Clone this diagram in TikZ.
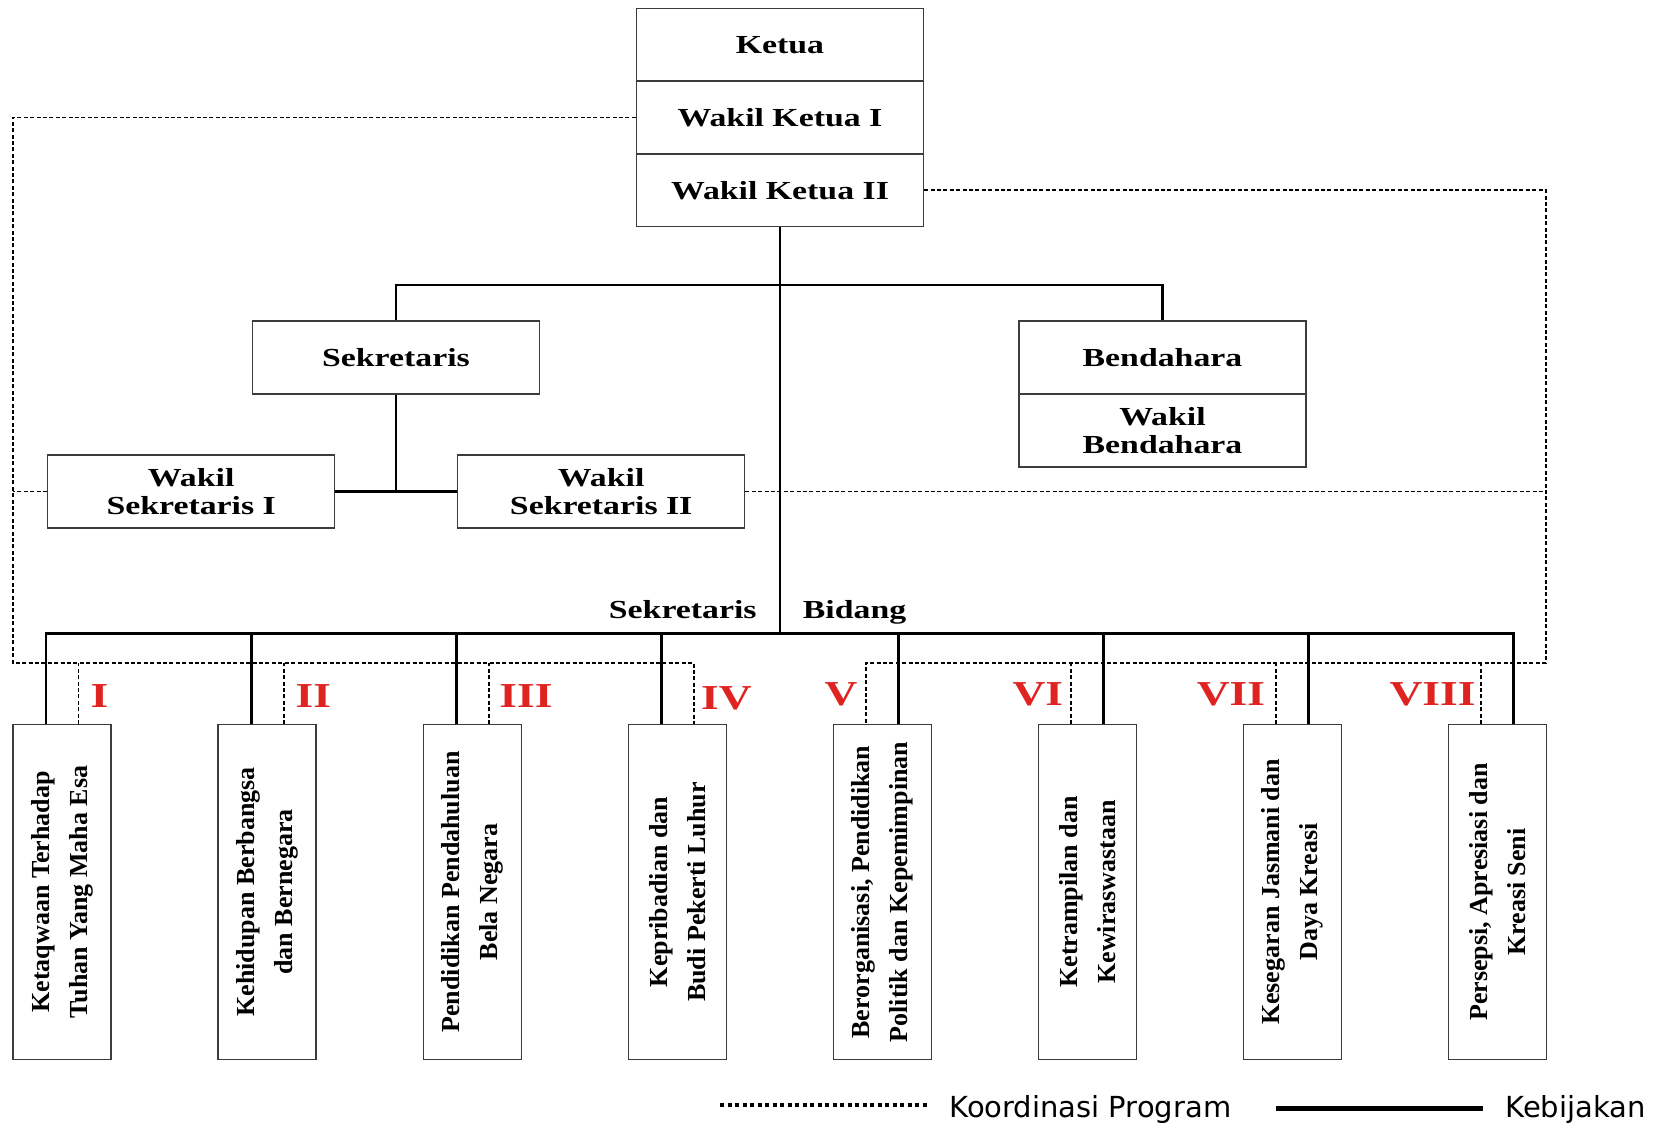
\documentclass[tikz,border=0pt]{standalone}
\usepackage{fontspec}
\setmainfont{Liberation Serif}
\newfontfamily\hfont[FakeStretch=1.3]{Liberation Serif}
\newfontfamily\legfont{DejaVu Sans}
\definecolor{numred}{RGB}{222,35,32}
\definecolor{boxline}{RGB}{60,60,60}
\begin{document}
\begin{tikzpicture}[x=0.5pt,y=-0.5pt,
  unitbox/.style={draw=boxline, line width=0.65pt, minimum width=143.5pt, minimum height=36.4pt, inner sep=0pt, align=center,
     font=\hfont\bfseries\fontsize{13}{14.3}\selectfont},
  fieldbox/.style={draw=boxline, line width=0.65pt, minimum width=49pt, minimum height=167.3pt, inner sep=0pt},
  fieldtext/.style={rotate=90, align=center, inner sep=0pt, font=\bfseries\fontsize{13}{19}\selectfont},
  pol/.style={line width=1.4pt, black},
  coordline/.style={line width=0.95pt, black, dash pattern=on 2pt off 1.2pt},
  num/.style={text=numred, inner sep=0pt, font=\hfont\bfseries\fontsize{17.5}{20}\selectfont},
  buslabel/.style={inner sep=0pt, font=\hfont\bfseries\fontsize{13}{14}\selectfont},
  legtext/.style={inner sep=0pt, font=\legfont\fontsize{14.5}{16}\selectfont}
]
\useasboundingbox (0,0) rectangle (1661,1129);

% top stack
\node[unitbox] (ketua) at (780,44.85) {Ketua};
\node[unitbox] (wk1) at (780,117.55) {Wakil Ketua I};
\node[unitbox] (wk2) at (780,190.25) {Wakil Ketua II};

% secretary & treasurer
\node[unitbox] (sek) at (396,357.5) {Sekretaris};
\node[unitbox] (wsek1) at (191.2,491.5) {Wakil\\Sekretaris I};
\node[unitbox] (wsek2) at (601.2,491.5) {Wakil\\Sekretaris II};
\node[unitbox] (bend) at (1162.5,357.5) {Bendahara};
\node[unitbox] (wbend) at (1162.5,430.5) {Wakil\\Bendahara};

% field boxes
\foreach \i/\t in {1/{Ketaqwaan Terhadap\\Tuhan Yang Maha Esa},
                   2/{Kehidupan Berbangsa\\dan Bernegara},
                   3/{Pendidikan Pendahuluan\\Bela Negara},
                   4/{Kepribadian dan\\Budi Pekerti Luhur},
                   5/{Berorganisasi, Pendidikan\\Politik dan Kepemimpinan},
                   6/{Ketrampilan dan\\Kewiraswastaan},
                   7/{Kesegaran Jasmani dan\\Daya Kreasi},
                   8/{Persepsi, Apresiasi dan\\Kreasi Seni}}{
  \node[fieldbox] (b\i) at ({62+205.1*(\i-1)},892) {};
  \node[fieldtext] (t\i) at (b\i.center) {\t};
}

% coordinates
\coordinate (hbar) at (780,285);
\coordinate (bus) at (780,633.3);
\coordinate (dl) at (13,663);
\coordinate (dr) at (1546,663);

% solid policy lines
\draw[pol] (wk2.south) -- (bus);
\draw[pol] (sek.north) |- (hbar) -| (bend.north);
\draw[pol] (sek.south) -- (sek.south |- wsek1.east);
\draw[pol] (wsek1.east) -- (wsek2.west);
\foreach \i in {1,2,3,4}{\draw[pol] ([xshift=-8pt]b\i.north) |- (bus);}
\foreach \i in {5,6,7,8}{\draw[pol] ([xshift=8pt]b\i.north) |- (bus);}

% dashed coordination lines
\draw[coordline] (wk1.west) -| (dl) -- ([xshift=8.25pt]b4.north |- dl) -- ([xshift=8.25pt]b4.north);
\foreach \i in {1,2,3}{\draw[coordline] ([xshift=8.25pt]b\i.north) -- ([xshift=8.25pt]b\i.north |- dl);}
\draw[coordline] (wk2.east) -| (dr) -- ([xshift=-8.3pt]b5.north |- dr) -- ([xshift=-8.3pt]b5.north);
\foreach \i in {6,7,8}{\draw[coordline] ([xshift=-8.3pt]b\i.north) -- ([xshift=-8.3pt]b\i.north |- dr);}
\draw[coordline] (wsek1.west) -- (wsek1.west -| dl);
\draw[coordline] (wsek2.east) -- (wsek2.east -| dr);

% roman numerals
\node[num] (n1) at (99.4,696) {I};
\node[num] (n2) at (313.4,696) {II};
\node[num] (n3) at (526,696) {III};
\node[num] (n4) at (726.4,698) {IV};
\node[num] (n5) at (841,694) {V};
\node[num] (n6) at (1037.8,694) {VI};
\node[num] (n7) at (1231,694) {VII};
\node[num] (n8) at (1432.5,694) {VIII};

% bus labels
\node[buslabel, anchor=base east] (lsek) at (757,618) {Sekretaris};
\node[buslabel, anchor=base west] (lbid) at (802.5,618) {Bidang};

% legend
\coordinate (ld1) at (720,1105);
\coordinate (ld2) at (927,1105);
\coordinate (ls1) at (1276,1108);
\coordinate (ls2) at (1483,1108);
\draw[line width=2pt, dash pattern=on 2pt off 1.75pt] (ld1) -- (ld2);
\draw[line width=2.5pt] (ls1) -- (ls2);
\node[legtext, anchor=base west] (lk) at (949,1117) {Koordinasi Program};
\node[legtext, anchor=base west] (lb) at (1505,1117) {Kebijakan};
\end{tikzpicture}
\end{document}
